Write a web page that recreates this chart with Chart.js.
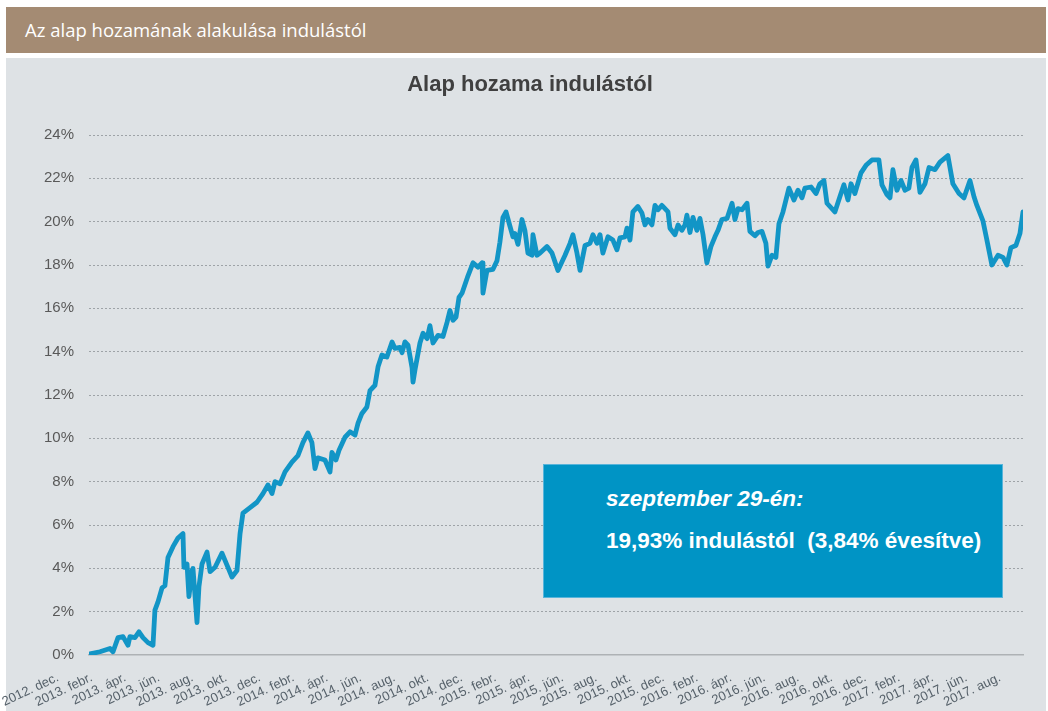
<!DOCTYPE html>
<html><head><meta charset="utf-8">
<script src="https://cdn.jsdelivr.net/npm/chart.js@4.4.0/dist/chart.umd.min.js"></script>
<style>
html,body{margin:0;padding:0;background:#fff;}
body{width:1048px;height:711px;position:relative;overflow:hidden;}
#hdr{position:absolute;left:6px;top:7px;width:1040px;height:46px;background:#a48b73;color:#fff;font-family:'Open Sans',sans-serif;font-size:18.5px;line-height:46px;padding-left:19px;box-sizing:border-box;}
#panel{position:absolute;left:6px;top:58px;width:1040px;height:653px;background:#dee2e5;}
#c{position:absolute;left:0px;top:58px;}
#box{position:absolute;left:543px;top:464px;width:460px;height:134px;background:#0094c5;box-sizing:border-box;border:1px solid #58b4da;}
.bt{position:absolute;left:62px;color:#fff;font-family:'Liberation Sans',Arial,sans-serif;font-weight:bold;font-size:22.5px;line-height:22.5px;white-space:pre;}
</style></head>
<body>
<div id="hdr">Az alap hozamának alakulása indulástól</div>
<div id="panel"></div>
<canvas id="c" width="1046" height="653"></canvas>
<div id="box">
  <div class="bt" style="top:23px;font-style:italic;">szeptember 29-én:</div>
  <div class="bt" style="top:65px;">19,93% indulástól  (3,84% évesítve)</div>
</div>
<script>
// Time since launch (months from 2012 Dec) and cumulative return (%)
const monthsSinceStart = [0,0.06,0.68,1.30,1.49,1.80,2.11,2.42,2.54,2.85,3.10,3.35,3.66,3.97,4.09,4.28,4.53,4.71,4.90,5.21,5.52,5.83,5.89,6.08,6.20,6.39,6.45,6.70,6.82,7.01,7.32,7.51,7.82,8.25,8.56,8.87,9.18,9.37,9.55,9.99,10.42,10.79,11.10,11.35,11.54,11.85,12.16,12.59,12.96,13.27,13.58,13.83,14.02,14.20,14.64,14.95,15.07,15.32,15.51,15.88,16.19,16.50,16.69,16.93,17.24,17.43,17.74,17.93,18.17,18.48,18.80,18.98,19.29,19.42,19.60,19.79,20.04,20.10,20.22,20.53,20.72,20.97,21.15,21.34,21.65,21.96,22.21,22.39,22.58,22.77,22.95,23.14,23.51,23.82,24.13,24.38,24.44,24.69,25.06,25.31,25.49,25.68,25.87,26.11,26.30,26.42,26.61,26.86,27.04,27.23,27.48,27.54,27.79,27.98,28.41,28.72,29.09,29.53,29.84,30.02,30.27,30.46,30.77,31.08,31.26,31.51,31.70,31.88,32.19,32.50,32.75,32.94,33.25,33.37,33.56,33.74,34.05,34.30,34.49,34.67,34.92,35.11,35.30,35.54,35.73,35.92,36.04,36.35,36.54,36.78,36.97,37.09,37.28,37.47,37.71,37.90,38.09,38.33,38.58,38.83,39.02,39.26,39.58,39.89,40.07,40.26,40.51,40.82,41.00,41.31,41.50,41.75,41.99,42.12,42.37,42.61,42.80,43.05,43.42,43.73,43.98,44.23,44.41,44.79,45.10,45.34,45.59,45.78,46.27,46.58,46.83,47.08,47.27,47.51,47.89,48.20,48.57,49.00,49.19,49.50,49.69,49.87,50.12,50.37,50.62,50.86,51.05,51.30,51.55,51.86,52.11,52.48,52.79,53.28,53.59,53.97,54.28,54.65,54.90,55.08,55.45,55.70,56.01,56.39,56.70,56.94,57.19,57.50,57.75,57.94];
const returnPct = [0.03,0.05,0.15,0.30,0.15,0.80,0.85,0.45,0.85,0.80,1.07,0.80,0.57,0.45,2.07,2.45,3.10,3.20,4.50,5.00,5.40,5.60,4.05,4.20,2.70,3.90,4.00,1.50,3.15,4.20,4.75,3.85,4.05,4.70,4.15,3.60,3.90,5.60,6.55,6.80,7.05,7.45,7.85,7.45,8.00,7.90,8.45,8.90,9.20,9.80,10.25,9.80,8.60,9.10,9.00,8.45,9.35,9.00,9.45,10.05,10.30,10.15,10.70,11.15,11.45,12.20,12.45,13.30,13.85,13.75,14.45,14.15,14.20,13.95,14.45,14.30,13.25,12.60,13.15,14.40,14.85,14.60,15.20,14.40,14.75,14.70,15.35,15.90,15.45,15.60,16.50,16.70,17.50,18.10,17.90,18.10,16.70,17.75,17.80,18.20,19.05,20.20,20.45,19.80,19.30,19.45,18.95,20.10,19.60,18.55,18.45,19.40,18.45,18.55,18.85,18.55,17.75,18.45,19.00,19.40,18.55,17.75,18.90,19.00,19.40,19.00,19.40,18.55,19.30,19.15,18.70,19.25,19.30,19.70,19.15,20.45,20.70,20.40,19.85,20.10,19.85,20.75,20.55,20.75,20.60,20.45,19.70,19.40,19.85,19.60,19.85,20.30,19.50,20.20,19.60,20.15,19.40,18.10,18.85,19.30,19.60,20.10,20.15,20.85,20.10,20.60,20.55,20.85,19.55,19.35,19.50,19.55,19.00,17.95,18.45,18.35,19.90,20.45,21.55,21.00,21.45,21.10,21.55,21.60,21.30,21.75,21.90,20.85,20.45,21.15,21.70,21.00,21.75,21.30,22.25,22.60,22.85,22.85,21.70,21.25,21.10,22.40,21.45,21.90,21.45,21.55,22.50,22.85,21.35,21.75,22.50,22.40,22.75,23.05,21.75,21.30,21.10,21.90,21.15,20.75,20.05,19.15,18.00,18.45,18.35,18.00,18.80,18.90,19.45,20.45];
const tickLabels = ["2012. dec.","2013. febr.","2013. ápr.","2013. jún.","2013. aug.","2013. okt.","2013. dec.","2014. febr.","2014. ápr.","2014. jún.","2014. aug.","2014. okt.","2014. dec.","2015. febr.","2015. ápr.","2015. jún.","2015. aug.","2015. okt.","2015. dec.","2016. febr.","2016. ápr.","2016. jún.","2016. aug.","2016. okt.","2016. dec.","2017. febr.","2017. ápr.","2017. jún.","2017. aug."];
const yTicks = [0,2,4,6,8,10,12,14,16,18,20,22,24];

Chart.defaults.font.family = "'Liberation Sans', Arial, sans-serif";
const points = monthsSinceStart.map((m, i) => ({x: m, y: returnPct[i]}));

new Chart(document.getElementById('c'), {
  type: 'line',
  data: {
    datasets: [{
      data: points,
      xAxisID: 'x',
      yAxisID: 'y',
      borderColor: '#1295c6',
      borderWidth: 4.8,
      pointRadius: 0,
      tension: 0,
      borderJoinStyle: 'round',
      borderCapStyle: 'round',
      fill: false
    }]
  },
  options: {
    responsive: false,
    animation: false,
    devicePixelRatio: 1,
    layout: {padding: {left: 37, right: 23, top: 0, bottom: 0}},
    plugins: {
      legend: {display: false},
      tooltip: {enabled: false},
      title: {
        display: true,
        text: 'Alap hozama indulástól',
        color: '#404040',
        font: {size: 22, weight: 'bold'},
        padding: {top: 14, bottom: 36.6}
      }
    },
    scales: {
      x: {
        type: 'linear',
        display: false,
        min: 0,
        max: monthsSinceStart[monthsSinceStart.length - 1]
      },
      xl: {
        type: 'linear',
        position: 'bottom',
        min: 0,
        max: 27.76,
        afterBuildTicks: s => { s.ticks = tickLabels.map((_, i) => ({value: i})); },
        afterFit: s => { s.height = 56; s.paddingLeft = 0; s.paddingRight = 0; },
        grid: {drawOnChartArea: false, drawTicks: false},
        border: {display: true, color: '#aeb2b5', width: 1.5},
        ticks: {
          autoSkip: false,
          minRotation: 25,
          maxRotation: 25,
          padding: 15,
          labelOffset: -31,
          color: '#56616a',
          font: {size: 13},
          callback: (v, i) => tickLabels[i]
        }
      },
      y: {
        min: 0,
        max: 24,
        afterBuildTicks: s => { s.ticks = yTicks.map(v => ({value: v})); },
        afterFit: s => { s.width = 52; },
        grid: {
          drawTicks: false,
          color: c => (c.tick && c.tick.value === 0) ? 'rgba(0,0,0,0)' : '#9ea3a7',
          lineWidth: 1
        },
        border: {display: false, dash: [2, 2]},
        ticks: {
          padding: 15,
          color: '#595959',
          font: {size: 15},
          callback: v => v + '%'
        }
      }
    }
  }
});
</script>
</body></html>
